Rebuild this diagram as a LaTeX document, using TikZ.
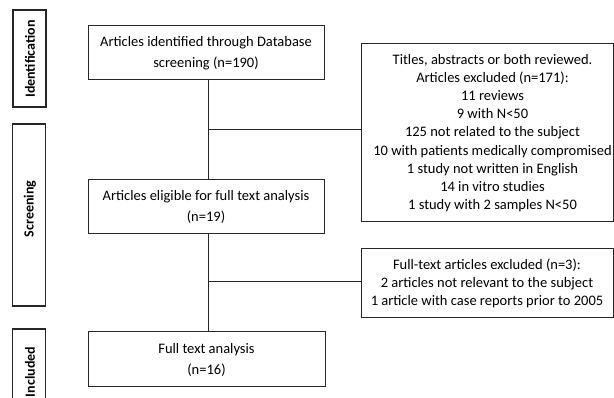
\documentclass[tikz,border=0pt]{standalone}
\usepackage{fontspec}
\setmainfont{Carlito}
\begin{document}
\begin{tikzpicture}[x=1pt,y=-1pt,
  box/.style={draw=black!85, line width=1pt, inner sep=0pt, align=center, font=\fontsize{14.5}{21}\selectfont},
  rbox/.style={box, font=\fontsize{14.5}{18.2}\selectfont},
  rtext/.style={inner sep=0pt, align=center, font=\fontsize{14.5}{18.2}\selectfont},
  phase/.style={draw=black!85, line width=1.1pt, inner sep=0pt, minimum width=33},
  plabel/.style={rotate=90, font=\fontsize{14}{16}\selectfont\bfseries},
  conn/.style={draw=black!85, line width=1pt}]
\useasboundingbox (0,0) rectangle (614,398);
% phase boxes
\node[phase, minimum height=97] (idb) at (29.5,58.5) {};
\node[plabel] (idt) at (30,59) {Identification};
\node[phase, minimum height=182] (scb) at (29,215) {};
\node[plabel] (sct) at (30,209) {Screening};
\node[phase, minimum height=80] (inb) at (29,369) {};
\node[plabel] (int) at (30,372) {Included};
% main boxes
\node[box, minimum width=236, minimum height=54] (b1) at (206,53) {Articles identified through Database\\screening (n=190)};
\node[box, minimum width=236, minimum height=54] (b2) at (206,207) {Articles eligible for full text analysis\\(n=19)};
\node[box, minimum width=237, minimum height=55] (b3) at (206.5,359.5) {Full text analysis\\(n=16)};
% exclusion boxes
\node[rbox, minimum width=252, minimum height=178] (e1) at (487,133) {};
\node[rtext] (e1t) at (492.5,133) {Titles, abstracts or both reviewed.\\Articles excluded (n=171):\\11 reviews\\9 with N<50\\125 not related to the subject\\10 with patients medically compromised\\1 study not written in English\\14 in vitro studies\\1 study with 2 samples N<50};
\node[rbox, minimum width=252, minimum height=69] (e2) at (487,283.5) {Full-text articles excluded (n=3):\\2 articles not relevant to the subject\\1 article with case reports prior to 2005};
% connectors
\coordinate (j1) at (208,130);
\coordinate (j2) at (208,282);
\draw[conn] (b1.south -| j1) -- (b2.north -| j1);
\draw[conn] (b2.south -| j2) -- (b3.north -| j2);
\draw[conn] (j1) -- (j1 -| e1.west);
\draw[conn] (j2) -- (j2 -| e2.west);
\end{tikzpicture}
\end{document}
